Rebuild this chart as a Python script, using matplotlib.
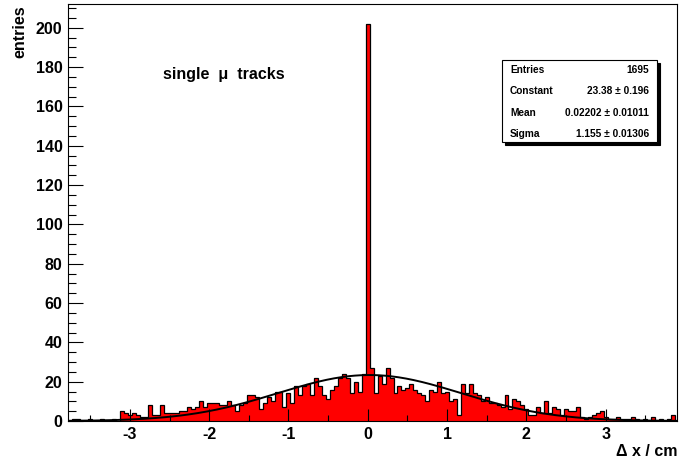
import numpy as np
import matplotlib.pyplot as plt
from matplotlib.patches import Rectangle
from matplotlib.ticker import MultipleLocator

plt.rcParams['font.family'] = ['Liberation Sans', 'DejaVu Sans']
plt.rcParams['font.weight'] = 'bold'
plt.rcParams['axes.unicode_minus'] = False

# residual counts, 0.05 cm bins starting at -3.775 cm
counts = [
    0, 1, 1, 0, 0, 1, 0, 0, 1, 0,
    0, 1, 0, 5, 4, 3, 4, 3, 2, 2,
    8, 3, 3, 8, 4, 4, 4, 4, 5, 5,
    7, 6, 7, 10, 7, 9, 9, 9, 8, 8,
    10, 8, 5, 8, 9, 13, 13, 12, 6, 9,
    12, 10, 15, 15, 7, 14, 9, 18, 13, 18,
    19, 13, 22, 18, 13, 11, 16, 18, 22, 24,
    22, 14, 20, 15, 24, 202, 27, 14, 23, 19,
    27, 22, 14, 18, 16, 17, 19, 16, 14, 13,
    10, 16, 15, 20, 14, 15, 10, 11, 3, 19,
    14, 19, 14, 13, 10, 12, 9, 9, 8, 7,
    13, 6, 11, 10, 8, 6, 3, 3, 7, 4,
    10, 4, 7, 6, 3, 6, 5, 5, 7, 2,
    1, 2, 3, 4, 5, 2, 1, 1, 2, 1,
    1, 1, 2, 1, 0, 1, 0, 2, 0, 1,
    0, 1, 3, 0,
]
bin_lo = -3.775
bin_w = 0.05
edges = bin_lo + bin_w * np.arange(len(counts) + 1)

# gaussian fit results
n_entries = 1695
fit_const, fit_const_err = 23.38, 0.196
fit_mean, fit_mean_err = 0.02202, 0.01011
fit_sigma, fit_sigma_err = 1.155, 0.01306

W, H = 681, 463
fig = plt.figure(figsize=(W / 100, H / 100), dpi=100)
ax = fig.add_axes([68 / W, 42 / H, 609 / W, 417 / H])

ax.stairs(counts, edges, fill=True, color='red', lw=0)
ax.stairs(counts, edges, color='black', lw=0.9)

xf = np.linspace(-3.78, 3.9, 500)
ax.plot(xf, fit_const * np.exp(-0.5 * ((xf - fit_mean) / fit_sigma) ** 2),
        color='black', lw=1.4)

ax.set_xlim(-3.78, 3.9)
ax.set_ylim(0, 212.1)
ax.set_xticks(range(-3, 4))
ax.xaxis.set_minor_locator(MultipleLocator(0.5))
ax.set_yticks(range(0, 201, 20))
ax.yaxis.set_minor_locator(MultipleLocator(5))
ax.tick_params(which='both', direction='in', top=False, right=False,
               width=0.8, labelsize=11.5)
ax.tick_params(axis='x', which='major', length=8.6, pad=4)
ax.tick_params(axis='x', which='minor', length=4.3)
ax.tick_params(axis='y', which='major', length=10.8, pad=4)
ax.tick_params(axis='y', which='minor', length=5.4)
for s in ax.spines.values():
    s.set_linewidth(0.8)


def px(x, y):
    return x / W, 1 - y / H


fig.text(*px(677, 452), 'Δ x / cm', ha='right', va='center', fontsize=11.5)
fig.text(*px(20, 5), 'entries', rotation=90, ha='center', va='top', fontsize=11.5)
fig.text(*px(163, 75), 'single  μ  tracks', ha='left', va='center', fontsize=11.5)

# stats box with drop shadow
x0, y0 = px(502, 142)
bw, bh = 155 / W, 82 / H
fig.add_artist(Rectangle((x0 + 3 / W, y0 - 3 / H), bw, bh, transform=fig.transFigure,
                         facecolor='black', edgecolor='black', lw=0.8))
fig.add_artist(Rectangle((x0, y0), bw, bh, transform=fig.transFigure,
                         facecolor='white', edgecolor='black', lw=0.8))
rows = [
    ('Entries', f'{n_entries}'),
    ('Constant', f'{fit_const:.2f} ± {fit_const_err}'),
    ('Mean', f'{fit_mean} ± {fit_mean_err}'),
    ('Sigma', f'{fit_sigma} ± {fit_sigma_err}'),
]
for i, (name, val) in enumerate(rows):
    yy = 70 + i * 21.3
    fig.text(*px(510, yy), name, ha='left', va='center', fontsize=7.3)
    fig.text(*px(649, yy), val, ha='right', va='center', fontsize=7.3)

fig.savefig('out.png', dpi=100)
